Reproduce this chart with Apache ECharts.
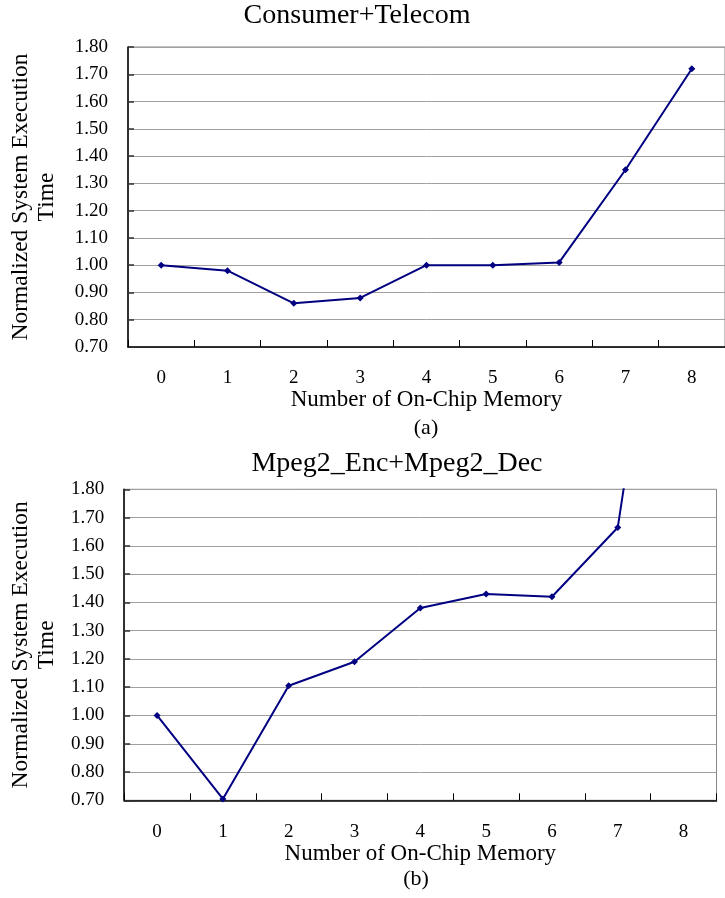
<!DOCTYPE html>
<html>
<head>
<meta charset="utf-8">
<script src="https://cdn.jsdelivr.net/npm/echarts@6/dist/echarts.min.js"></script>
<style>
  html, body { margin: 0; padding: 0; background: #fff; }
  #chart { width: 725px; height: 898px; }
</style>
</head>
<body>
<div id="chart"></div>
<script>
var memoryCounts = ["0", "1", "2", "3", "4", "5", "6", "7", "8"];
var consumerTelecom = [1.00, 0.98, 0.86, 0.88, 1.00, 1.00, 1.01, 1.35, 1.72];
// last point runs off the top of the plot in the original
var mpeg2EncDec = [1.00, 0.705, 1.105, 1.19, 1.38, 1.43, 1.42, 1.665, 3.2];
var yMin = 0.7, yMax = 1.8, yStep = 0.1;

var FONT = "Liberation Serif";
var LINE = "#000080";

function makeY(idx, gap) {
  return {
    gridIndex: idx,
    type: "value",
    min: yMin,
    max: yMax,
    interval: yStep,
    name: "Normalized System Execution\nTime",
    nameLocation: "middle",
    nameGap: gap,
    nameTextStyle: { fontFamily: FONT, fontSize: 23.5, color: "#000", lineHeight: 26 },
    axisLine: { show: true, lineStyle: { color: "#000", width: 1.5 } },
    axisTick: { show: true, inside: true, length: 6, lineStyle: { color: "#333", width: 1.5 } },
    axisLabel: {
      margin: 20,
      fontFamily: FONT,
      fontSize: 19,
      color: "#000",
      formatter: function (v) { return v.toFixed(2); },
    },
    splitLine: { show: true, lineStyle: { color: "#a0a0a0", width: 1 } },
  };
}

function makeX(idx) {
  return {
    gridIndex: idx,
    type: "category",
    data: memoryCounts,
    boundaryGap: true,
    name: "Number of On-Chip Memory",
    nameLocation: "middle",
    nameGap: 41,
    nameTextStyle: { fontFamily: FONT, fontSize: 23, color: "#000" },
    axisLine: { show: true, lineStyle: { color: "#000", width: 1.5 } },
    axisTick: { show: true, inside: true, length: 7, lineStyle: { color: "#000", width: 1 } },
    axisLabel: { margin: 22, fontFamily: FONT, fontSize: 19, color: "#000" },
    splitLine: { show: false },
  };
}

function makeSeries(idx, values) {
  return {
    type: "line",
    xAxisIndex: idx,
    yAxisIndex: idx,
    data: values,
    clip: true,
    symbol: "diamond",
    symbolSize: 7,
    showAllSymbol: true,
    lineStyle: { color: LINE, width: 2 },
    itemStyle: { color: LINE },
    animation: false,
  };
}

var myChart = echarts.init(document.getElementById("chart"));
myChart.setOption({
  backgroundColor: "#fff",
  animation: false,
  title: [
    {
      text: "Consumer+Telecom", left: 357, top: 16, textAlign: "center", textVerticalAlign: "middle", padding: 0,
      textStyle: { fontFamily: FONT, fontSize: 28, fontWeight: "normal", color: "#000" },
    },
    {
      text: "(a)", left: 426, top: 428, textAlign: "center", textVerticalAlign: "middle", padding: 0,
      textStyle: { fontFamily: FONT, fontSize: 22, fontWeight: "normal", color: "#000" },
    },
    {
      text: "Mpeg2_Enc+Mpeg2_Dec", left: 397, top: 464, textAlign: "center", textVerticalAlign: "middle", padding: 0,
      textStyle: { fontFamily: FONT, fontSize: 28, fontWeight: "normal", color: "#000" },
    },
    {
      text: "(b)", left: 416, top: 879, textAlign: "center", textVerticalAlign: "middle", padding: 0,
      textStyle: { fontFamily: FONT, fontSize: 22, fontWeight: "normal", color: "#000" },
    },
  ],
  grid: [
    { left: 126, top: 47, width: 602, height: 300, show: true, borderColor: "#888", borderWidth: 1 },
    { left: 122.5, top: 489.3, width: 594, height: 311, show: true, borderColor: "#888", borderWidth: 1 },
  ],
  xAxis: [makeX(0), makeX(1)],
  yAxis: [makeY(0, 68), makeY(1, 64)],
  series: [makeSeries(0, consumerTelecom), makeSeries(1, mpeg2EncDec)],
});
</script>
</body>
</html>
